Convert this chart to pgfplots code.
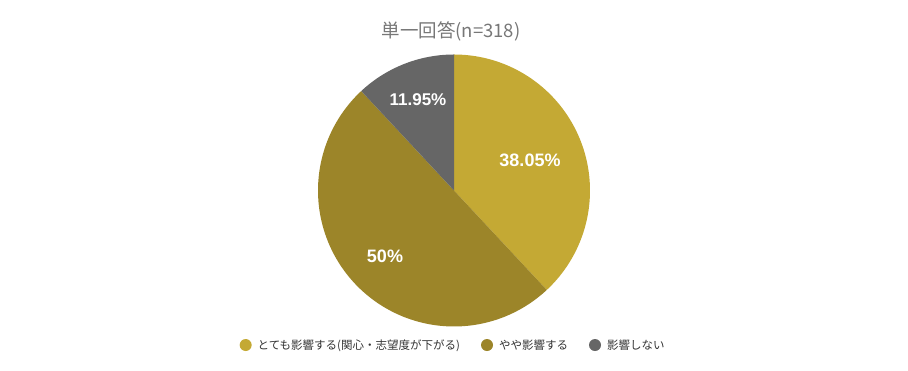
\documentclass[border=0pt]{standalone}
\usepackage{pgfplots}
\pgfplotsset{compat=1.18}
\usepackage{pgfplotstable}
\usepackage{fontspec}
\setmainfont{Liberation Sans}
\newfontfamily\cjk{Noto Sans CJK JP}
\definecolor{cA}{HTML}{C4A934}
\definecolor{cB}{HTML}{9C8529}
\definecolor{cC}{HTML}{666666}
\definecolor{tgray}{HTML}{777777}
\definecolor{lgray}{HTML}{333333}
\pgfplotstableread{
label value
A 38.05
B 50
C 11.95
}\piedata
\begin{document}
\begin{tikzpicture}
\pgfplotstablegetelem{0}{value}\of\piedata \let\va\pgfplotsretval
\pgfplotstablegetelem{1}{value}\of\piedata \let\vb\pgfplotsretval
\pgfplotstablegetelem{2}{value}\of\piedata \let\vc\pgfplotsretval
\pgfmathsetmacro{\aO}{90}
\pgfmathsetmacro{\aA}{90-3.6*\va}
\pgfmathsetmacro{\aB}{\aA-3.6*\vb}
\pgfmathsetmacro{\aC}{\aB-3.6*\vc}
\begin{axis}[
  x=1pt, y=1pt, xmin=0, xmax=908, ymin=0, ymax=371,
  scale only axis, hide axis, clip=false,
  legend columns=3,
  legend style={draw=none, fill=none, at={(0.499,0.070)}, anchor=center,
    font=\cjk\fontsize{11.5}{13}\selectfont, text=lgray,
    /tikz/every even column/.append style={column sep=19pt},
    /tikz/every odd column/.append style={column sep=4pt}},
]
\draw[draw=none] (rel axis cs:0,0) rectangle (rel axis cs:1,1);
\addplot[fill=cA, draw=none, domain=\aO:\aA, samples=120,
  legend image code/.code={\fill[cA] (0pt,0pt) circle (6pt);}]
  ({454+136*cos(x)},{180.5+136*sin(x)}) -- (axis cs:454,180.5) -- cycle;
\addlegendentry{とても影響する(関心・志望度が下がる)}
\addplot[fill=cB, draw=none, domain=\aA:\aB, samples=150,
  legend image code/.code={\fill[cB] (0pt,0pt) circle (6pt);}]
  ({454+136*cos(x)},{180.5+136*sin(x)}) -- (axis cs:454,180.5) -- cycle;
\addlegendentry{やや影響する}
\addplot[fill=cC, draw=none, domain=\aB:\aC, samples=60,
  legend image code/.code={\fill[cC] (0pt,0pt) circle (6pt);}]
  ({454+136*cos(x)},{180.5+136*sin(x)}) -- (axis cs:454,180.5) -- cycle;
\addlegendentry{影響しない}
\node[font=\bfseries\fontsize{18}{20}\selectfont, text=white] at (axis cs:530,211) {38.05\%};
\node[font=\bfseries\fontsize{18}{20}\selectfont, text=white] at (axis cs:385,115) {50\%};
\node[font=\bfseries\fontsize{17}{20}\selectfont, text=white] at (axis cs:418,271) {11.95\%};
\node[font=\cjk\fontsize{18.5}{20}\selectfont, text=tgray] at (axis cs:451,340) {単一回答(n=318)};
\end{axis}
\end{tikzpicture}
\end{document}
